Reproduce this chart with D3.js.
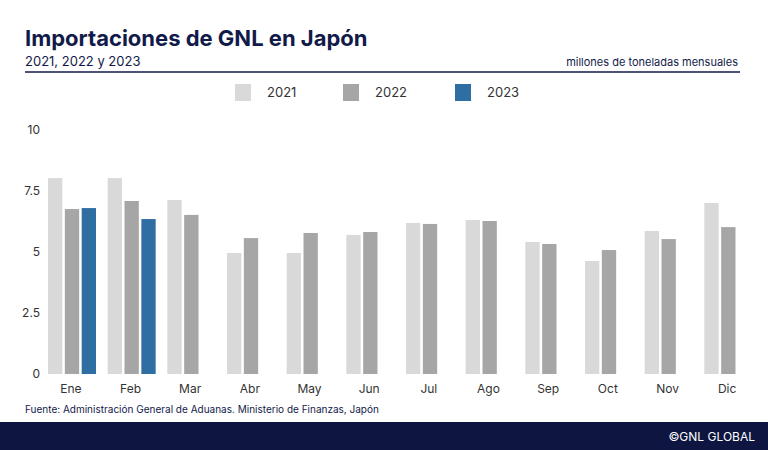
<!DOCTYPE html>
<html><head><meta charset="utf-8">
<script src="https://cdn.jsdelivr.net/npm/d3@7"></script>
<style>body{margin:0;background:#fff;font-family:Inter,"Noto Sans",sans-serif;}</style>
</head><body><div id="main"></div>
<script>
var months = ["Ene","Feb","Mar","Abr","May","Jun","Jul","Ago","Sep","Oct","Nov","Dic"];
var years = ["2021","2022","2023"];
var v2021 = [8.03,8.03,7.13,4.96,4.96,5.70,6.19,6.31,5.41,4.63,5.86,7.01];
var v2022 = [6.76,7.09,6.52,5.57,5.78,5.82,6.15,6.27,5.33,5.08,5.53,6.02];
var v2023 = [6.80,6.35];
var yTicks = [0,2.5,5,7.5,10];
var colors = ["#d9d9d9","#a6a6a6","#2f6ea3"];
var navy = "#121a4a";

var w = 768, h = 450;
var svg = d3.select("#main").append("svg").attr("width", w).attr("height", h);

svg.append("text").attr("x",25).attr("y",46).attr("fill",navy)
  .style("font-size","22px").style("font-weight","700").text("Importaciones de GNL en Japón");
svg.append("text").attr("x",25).attr("y",66).attr("fill",navy)
  .style("font-size","13px").text("2021, 2022 y 2023");
svg.append("text").attr("x",738).attr("y",66).attr("fill",navy).attr("text-anchor","end")
  .style("font-size","11px").text("millones de toneladas mensuales");
svg.append("line").attr("x1",25).attr("x2",740).attr("y1",72).attr("y2",72)
  .attr("stroke",navy).attr("stroke-width",1.5);

// legend
var legX = [235,343,455];
years.forEach(function(y,i){
  svg.append("rect").attr("x",legX[i]).attr("y",84).attr("width",16).attr("height",17).attr("fill",colors[i]);
  svg.append("text").attr("x",legX[i]+32).attr("y",97).attr("fill","#333")
    .style("font-size","13px").text(y);
});

var x = d3.scaleBand().domain(months).range([41,757]);
var xs = d3.scaleBand().domain(years).range([7,55]).paddingInner(0.15);
var yScale = d3.scaleLinear().domain([0,10]).range([374,130]);

svg.append("g").attr("transform","translate(40,0)")
  .call(d3.axisLeft(yScale).tickValues(yTicks).tickSize(0).tickPadding(0).tickFormat(d3.format("")))
  .call(function(g){g.select(".domain").remove();})
  .selectAll("text").attr("fill","#333").style("font-size","12px").style("font-family","Inter,sans-serif");

svg.append("g").attr("transform","translate(0,374)")
  .call(d3.axisBottom(x).tickSize(0).tickPadding(10))
  .call(function(g){g.select(".domain").remove();})
  .selectAll("text").attr("fill","#333").style("font-size","12px").style("font-family","Inter,sans-serif");

var series = [v2021,v2022,v2023];
series.forEach(function(vals,si){
  svg.append("g").selectAll("rect").data(vals).enter().append("rect")
    .attr("x",function(d,i){return x(months[i])+xs(years[si]);})
    .attr("width",xs.bandwidth())
    .attr("y",function(d){return yScale(d);})
    .attr("height",function(d){return yScale(0)-yScale(d);})
    .attr("fill",colors[si]);
});

svg.append("text").attr("x",25).attr("y",413).attr("fill",navy)
  .style("font-size","10px").text("Fuente: Administración General de Aduanas. Ministerio de Finanzas, Japón");
svg.append("rect").attr("x",0).attr("y",422).attr("width",w).attr("height",28).attr("fill","#0d1540");
svg.append("text").attr("x",755).attr("y",441).attr("fill","#fff").attr("text-anchor","end")
  .style("font-size","12px").text("©GNL GLOBAL");
</script></body></html>
